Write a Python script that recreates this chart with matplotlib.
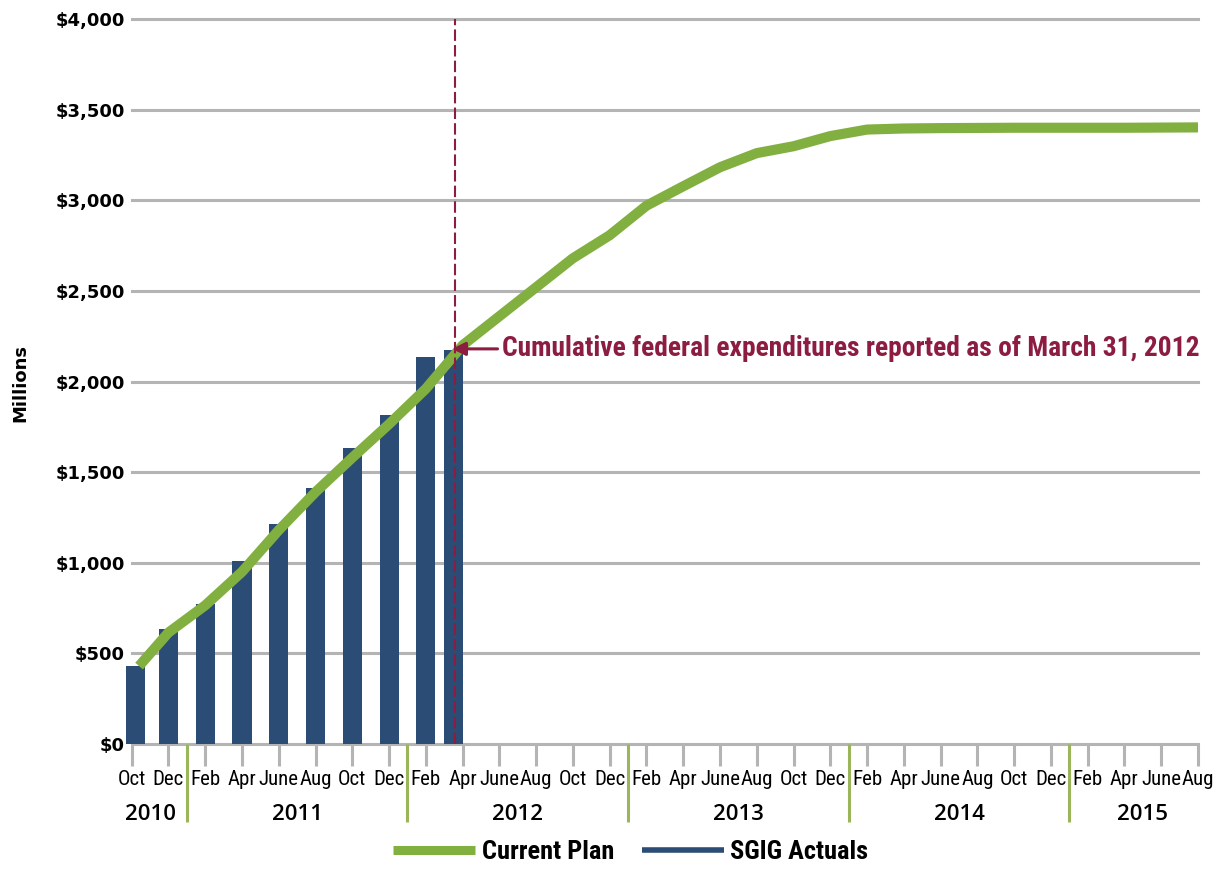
import matplotlib
matplotlib.use("Agg")
import matplotlib.pyplot as plt
from matplotlib.lines import Line2D
import numpy as np

# ---------------- data ----------------
months = ["Oct", "Dec",
          "Feb", "Apr", "June", "Aug", "Oct", "Dec",
          "Feb", "Apr", "June", "Aug", "Oct", "Dec",
          "Feb", "Apr", "June", "Aug", "Oct", "Dec",
          "Feb", "Apr", "June", "Aug", "Oct", "Dec",
          "Feb", "Apr", "June", "Aug"]
years = ["2010", "2011", "2012", "2013", "2014", "2015"]
months_per_year = [2, 6, 6, 6, 6, 4]

# Current plan (cumulative, $ millions), one value per bimonthly period
plan_period = [0.2] + list(range(1, 30))
plan_values = [430, 615, 765, 950, 1180, 1390, 1580, 1765, 1960, 2200,
               2360, 2520, 2680, 2807, 2970, 3077, 3182, 3260, 3298, 3354,
               3390, 3396, 3398, 3399, 3400, 3400, 3400, 3400, 3401, 3402]

# SGIG actuals (cumulative, $ millions); period position in bimonthly units
actual_period = [0.1, 1, 2, 3, 4, 5, 6, 7, 8, 8.75]
actual_values = [431, 634, 775, 1011, 1214, 1413, 1634, 1816, 2134, 2175]

report_period = 8.78   # March 31, 2012
annotation = "Cumulative federal expenditures reported as of March 31, 2012"

# ---------------- style ----------------
GREEN = "#82B040"
BLUE = "#2B4C74"
RED = "#8C1D40"
GRID = "#B4B4B4"
SEP = "#9BB65A"
NARROW = ["Roboto Condensed", "PT Sans Narrow", "Liberation Sans", "DejaVu Sans"]

W, H = 1225, 869
fig = plt.figure(figsize=(W / 100, H / 100), dpi=100)
ax = fig.add_axes([131.7 / W, 1 - 744 / H, (1198 - 131.7) / W, (744 - 19) / H])

ax.set_xlim(0, len(months) - 1)
ax.set_ylim(0, 4000)

# gridlines
for v in range(0, 4001, 500):
    ax.axhline(v, color=GRID, lw=2.2, zorder=1, clip_on=False)

# bars
ax.bar(actual_period, actual_values, width=0.52, color=BLUE, zorder=2, clip_on=False)

# plan line
ax.plot(plan_period, plan_values, color=GREEN, lw=7.3, zorder=3,
        solid_capstyle="butt", solid_joinstyle="round")

# dashed report line
ax.axvline(report_period, color=RED, lw=1.5, dashes=(5.5, 2.0), zorder=4)

# annotation arrow + text
ax.annotate("", xy=(8.71, 2180), xytext=(9.95, 2180),
            arrowprops=dict(arrowstyle="-|>", color=RED, lw=2.2,
                            mutation_scale=20, shrinkA=0, shrinkB=0),
            zorder=5)
ax.text(10.07, 2180, annotation, color=RED, fontsize=19.8, fontweight="bold",
        family=NARROW, ha="left", va="center", zorder=5)

# spines
for s in ax.spines.values():
    s.set_visible(False)

# y ticks
ax.set_yticks(range(0, 4001, 500))
ax.set_yticklabels([f"${v:,}" for v in range(0, 4001, 500)],
                   fontsize=13, fontweight="bold", family="DejaVu Sans")
ax.tick_params(axis="y", length=0, pad=5)

# x ticks (months)
ax.set_xticks(range(len(months)))
ax.set_xticklabels(months, fontsize=15, family=NARROW)
ax.tick_params(axis="x", which="major", length=16, width=2.2, color=GRID, pad=3)

# year separators as minor ticks
bounds = np.cumsum(months_per_year)[:-1] - 0.5
ax.set_xticks(bounds, minor=True)
ax.tick_params(axis="x", which="minor", length=56, width=2.2, color=SEP)

# year labels
start = 0
for yr, n in zip(years, months_per_year):
    center = start + (n - 1) / 2
    ax.text(center, -0.0966, yr, transform=ax.get_xaxis_transform(),
            ha="center", va="center", fontsize=16, fontweight="semibold",
            family=["Open Sans", "DejaVu Sans"])
    start += n

# y label
fig.text(20 / W, 1 - 383 / H, "Millions", rotation=90, ha="center", va="center",
         fontsize=13, fontweight="bold", family="DejaVu Sans")

# legend
handles = [Line2D([], [], color=GREEN, lw=6.5, solid_capstyle="butt"),
           Line2D([], [], color=BLUE, lw=4, solid_capstyle="butt")]
fig.legend(handles, ["Current Plan", "SGIG Actuals"], loc="center",
           bbox_to_anchor=(631 / W, 1 - 852 / H), ncol=2, frameon=False,
           handlelength=3.1, handletextpad=0.25, columnspacing=1.05,
           prop=dict(family=NARROW, weight="bold", size=19))

fig.savefig("out.png", dpi=100)
